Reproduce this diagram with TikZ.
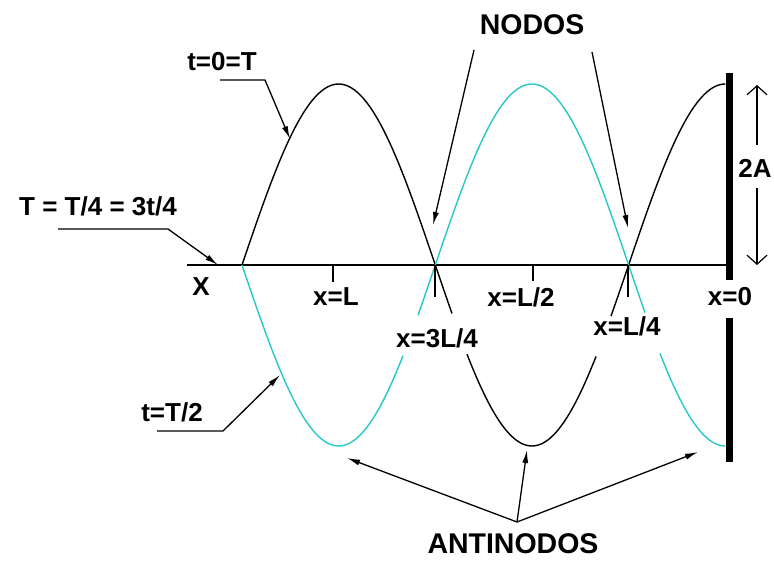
\documentclass[tikz,border=0pt]{standalone}
\usepackage{fontspec}
\setmainfont{Liberation Sans}
\usetikzlibrary{arrows.meta}
\definecolor{wavecyan}{RGB}{40,200,200}
\begin{document}
\begin{tikzpicture}[x=1pt,y=-1pt,
  lbl/.style={font=\bfseries\fontsize{26}{26}\selectfont, inner sep=0pt},
  big/.style={font=\bfseries\fontsize{28.5}{28.5}\selectfont, inner sep=0pt},
  bwave/.style={line width=1.4pt, black},
  cwave/.style={line width=1.4pt, wavecyan},
  lead/.style={line width=1.3pt, -{Latex[length=13pt,width=6pt]}},
  tick/.style={line width=1.4pt},
  amp/.style={line width=1.2pt, -{Straight Barb[length=9pt,width=20pt]}}]
\useasboundingbox (0,0) rectangle (774,561);

% axis
\coordinate (axL) at (187,265);
\coordinate (axR) at (726,265);
\draw[line width=1.8pt] (axL) -- (axR);

% wall
\fill (725.5,73) rectangle (732.5,280);
\fill (725.5,318) rectangle (732.5,462);

% waves t=0=T (black)
\draw[bwave] plot[smooth,domain=242:452,samples=70] (\x,{265-181*sin(0.93119*(\x-242))});
\draw[bwave] plot[smooth,domain=467:596,samples=50] (\x,{265-181*sin(0.93119*(\x-242))});
\draw[bwave] plot[smooth,domain=611:725.3,samples=45] (\x,{265-181*sin(0.93119*(\x-242))});
% waves t=T/2 (cyan)
\draw[cwave] plot[smooth,domain=242:403,samples=60] (\x,{265+181*sin(0.93119*(\x-242))});
\draw[cwave] plot[smooth,domain=418:645,samples=80] (\x,{265+181*sin(0.93119*(\x-242))});
\draw[cwave] plot[smooth,domain=660:725.3,samples=30] (\x,{265+181*sin(0.93119*(\x-242))});

% ticks
\coordinate (n1) at (435,265);
\coordinate (n2) at (628,265);
\coordinate (pL) at (333,265);
\coordinate (pL2) at (533,265);
\draw[tick] (pL) -- ++(0,17);
\draw[tick] (pL2) -- ++(0,16);
\draw[tick] (n1) -- ++(0,32);
\draw[tick] (n2) -- ++(0,32);

% labels
\node[lbl] (X) at (201,287) {X};
\node[lbl] (xL) at (336,297) {x=L};
\node[lbl] (xL2) at (521,297) {x=L/2};
\node[lbl] (x3L4) at (437,338) {x=3L/4};
\node[lbl] (xL4) at (627,326) {x=L/4};
\node[lbl] (x0) at (730,297) {x=0};
\node[lbl] (A2) at (755,168) {2A};
\node[big] (nodos) at (532,25) {NODOS};
\node[big] (anti) at (513,544) {ANTINODOS};
\node[lbl] (t0) at (222,62) {t=0=T};
\node[lbl] (tq) at (98,206) {T = T/4 = 3t/4};
\node[lbl] (th) at (172,412) {t=T/2};

% 2A arrows
\coordinate (Atop) at (757,85);
\coordinate (Abot) at (757,265);
\coordinate (Aup) at (757,145);
\coordinate (Adn) at (757,188);
\draw[amp] (Aup) -- (Atop);
\draw[amp] (Adn) -- (Abot);

% leader for t=0=T
\coordinate (t0a) at (220,80);
\coordinate (t0b) at (265,80);
\coordinate (t0c) at (290,139);
\draw[lead] (t0a) -- (t0b) -- (t0c);
% leader for T = T/4 = 3t/4
\coordinate (tqa) at (58,229);
\coordinate (tqb) at (168,229);
\coordinate (tqc) at (218,265);
\draw[lead] (tqa) -- (tqb) -- (tqc);
% leader for t=T/2
\coordinate (tha) at (157,431);
\coordinate (thb) at (223,431);
\coordinate (thc) at (280,375);
\draw[lead] (tha) -- (thb) -- (thc);

% NODOS arrows
\coordinate (na) at (474,50);
\coordinate (nb) at (592,52);
\coordinate (nt1) at (433,225);
\coordinate (nt2) at (628,228);
\draw[lead] (na) -- (nt1);
\draw[lead] (nb) -- (nt2);

% ANTINODOS arrows
\coordinate (hub) at (517,522);
\coordinate (a1) at (347,458);
\coordinate (a2) at (527,450);
\coordinate (a3) at (698,452);
\draw[lead] (hub) -- (a1);
\draw[lead] (hub) -- (a2);
\draw[lead] (hub) -- (a3);
\end{tikzpicture}
\end{document}
